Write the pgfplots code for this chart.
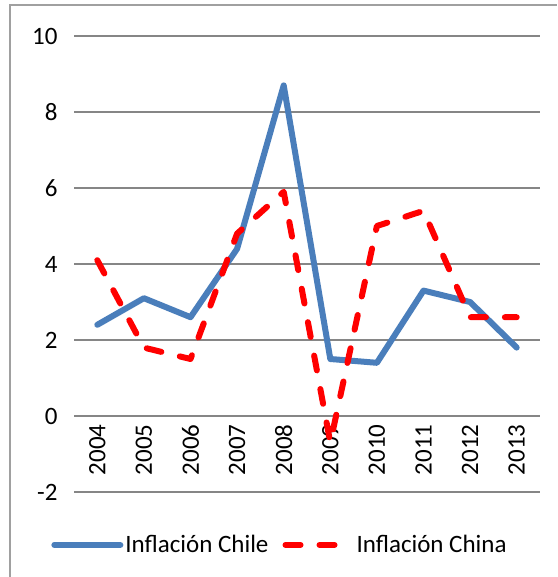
\documentclass[border=0pt]{standalone}
\usepackage{pgfplots}
\pgfplotsset{compat=1.18}
\usepackage{fontspec}
\setmainfont{Carlito}
\definecolor{chileblue}{RGB}{74,126,187}
\definecolor{gridgray}{RGB}{134,134,134}
\definecolor{framegray}{RGB}{160,160,160}
\begin{document}
\begin{tikzpicture}[x=1pt,y=1pt]
\path[use as bounding box] (0,0) rectangle (557,-577);
\draw[framegray, line width=2pt] (10,-577) -- (10,-5) -- (557,-5);
\begin{axis}[at={(74pt,-492pt)}, anchor=south west, scale only axis,
  width=466pt, height=456pt,
  xmin=-0.5, xmax=9.5, ymin=-2, ymax=10,
  ytick={-2,0,2,4,6,8,10}, yticklabels={-2,0,2,4,6,8,10},
  xtick={0,...,9}, xticklabels={2004,2005,2006,2007,2008,2009,2010,2011,2012,2013},
  axis x line=middle, axis y line=left,
  hide obscured x ticks=false, hide obscured y ticks=false,
  x axis line style={draw=gridgray, line width=1.5pt, -},
  y axis line style={draw=none},
  major tick length=0,
  ymajorgrids, grid style={gridgray, line width=1.5pt},
  tick label style={font=\fontsize{25}{29}\selectfont},
  y tick label style={xshift=-13pt},
  x tick label style={yshift=-5pt, rotate=90, anchor=east},
  clip=false,
  legend style={at={(0.442,-0.116)}, anchor=center, draw=none, fill=none,
    font=\fontsize{25}{29}\selectfont, legend columns=2,
    /tikz/every even column/.append style={column sep=12pt}},
  legend image code/.code={\draw[#1] (0pt,0pt) -- (66pt,0pt);},
]
\addplot[chileblue, line width=6pt, line join=round, line cap=round] coordinates {
(0,2.4) (1,3.1) (2,2.6) (3,4.4) (4,8.7) (5,1.5) (6,1.4) (7,3.3) (8,3.0) (9,1.8)};
\addlegendentry{Inflación Chile}
\addplot[red, line width=6pt, line join=round, line cap=round, dash pattern=on 15pt off 19pt] coordinates {
(0,4.1) (1,1.8) (2,1.5) (3,4.8) (4,5.9) (5,-0.7) (6,5.0) (7,5.4) (8,2.6) (9,2.6)};
\addlegendentry{Inflación China}
\end{axis}
\end{tikzpicture}
\end{document}
